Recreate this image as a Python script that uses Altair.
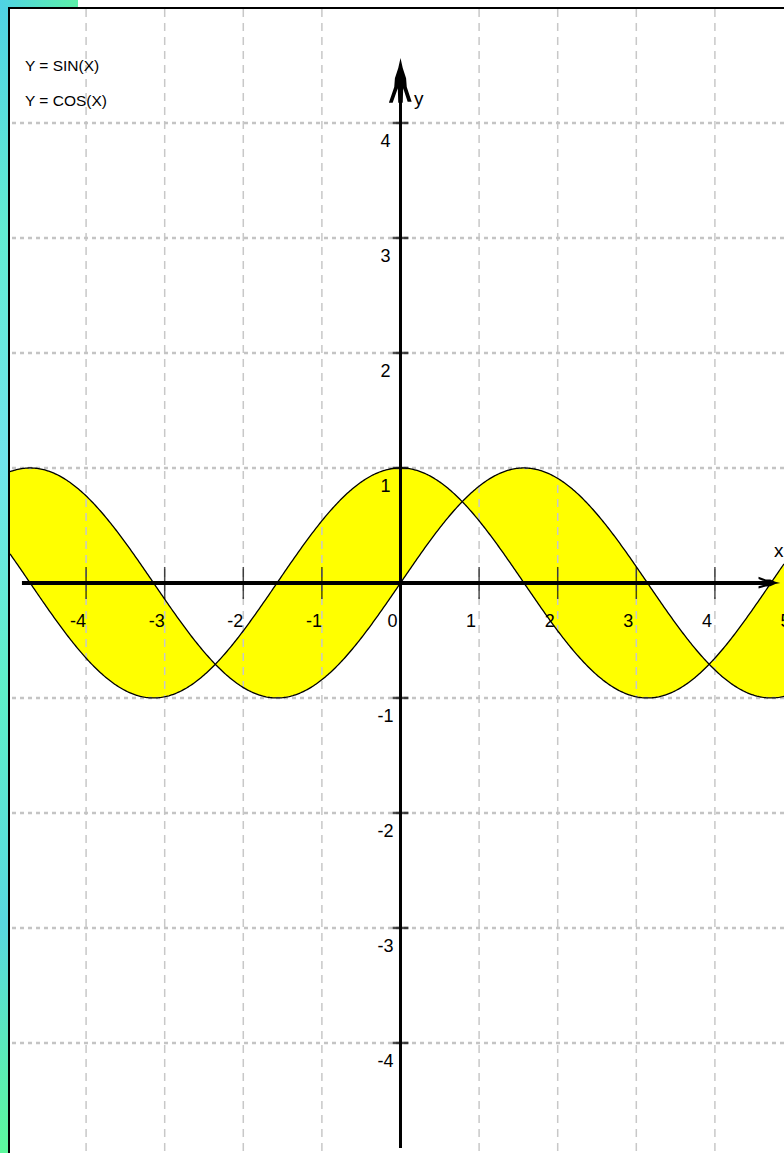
import altair as alt
import numpy as np
import pandas as pd

# Plotted range (data units) and plot size in pixels
X_DOMAIN = [-4.968, 4.879]
Y_DOMAIN = [-4.957, 4.991]
W, H = 774, 1144

x_ticks = [-4, -3, -2, -1, 1, 2, 3, 4]
y_ticks = [-4, -3, -2, -1, 1, 2, 3, 4]
x_tick_labels = ["-4", "-3", "-2", "-1", "0", "1", "2", "3", "4", "5"]
x_label_pos = [-4, -3, -2, -1, 0, 1, 2, 3, 4, 5]
y_tick_labels = ["-4", "-3", "-2", "-1", "1", "2", "3", "4"]
y_label_pos = [-4, -3, -2, -1, 1, 2, 3, 4]
legend_lines = ["Y = SIN(X)", "Y = COS(X)"]

FONT = "Liberation Sans Narrow, Liberation Sans, Arial"

xs = np.linspace(X_DOMAIN[0], X_DOMAIN[1], 600)
curves = pd.DataFrame({"x": xs, "sin": np.sin(xs), "cos": np.cos(xs)})

xsc = alt.Scale(domain=X_DOMAIN, nice=False, zero=False)
ysc = alt.Scale(domain=Y_DOMAIN, nice=False, zero=False)

one = alt.Data(values=[{"k": 0}])

# frame: gradient strips and black border outside the plot area
left_strip = alt.Chart(one).mark_rect(
    color=alt.LinearGradient(
        gradient="linear", x1=0, x2=0, y1=0, y2=1,
        stops=[
            alt.GradientStop(offset=0, color="#4fd2e4"),
            alt.GradientStop(offset=0.2, color="#62ecd2"),
            alt.GradientStop(offset=0.4, color="#70e4ec"),
            alt.GradientStop(offset=0.6, color="#5ef0c8"),
            alt.GradientStop(offset=0.8, color="#58d8e0"),
            alt.GradientStop(offset=1, color="#5cf89c"),
        ],
    )
).encode(x=alt.value(-10), x2=alt.value(-2), y=alt.value(-9), y2=alt.value(H))

top_strip = alt.Chart(one).mark_rect(
    color=alt.LinearGradient(
        gradient="linear", x1=0, x2=1, y1=0, y2=0,
        stops=[
            alt.GradientStop(offset=0, color="#4fd2e4"),
            alt.GradientStop(offset=1, color="#5cf0a8"),
        ],
    )
).encode(x=alt.value(-10), x2=alt.value(68), y=alt.value(-9), y2=alt.value(-2))

left_border = alt.Chart(one).mark_rect(color="#000000").encode(
    x=alt.value(-2), x2=alt.value(0), y=alt.value(-2), y2=alt.value(H)
)
top_border = alt.Chart(one).mark_rect(color="#000000").encode(
    x=alt.value(-2), x2=alt.value(W), y=alt.value(-2), y2=alt.value(0)
)

# yellow band between the two curves
band = alt.Chart(curves).mark_area(color="#ffff00", opacity=1).encode(
    x=alt.X("x:Q", scale=xsc, axis=None),
    y=alt.Y("sin:Q", scale=ysc, axis=None),
    y2="cos:Q",
)

# grid
vgrid = alt.Chart(pd.DataFrame({"x": x_ticks})).mark_rule(
    color="#c8c8c8", strokeWidth=1.5, strokeDash=[8, 6]
).encode(x=alt.X("x:Q", axis=None))
hgrid = alt.Chart(pd.DataFrame({"y": y_ticks})).mark_rule(
    color="#c4c4c4", strokeWidth=2.5, strokeDash=[4, 4]
).encode(y=alt.Y("y:Q", axis=None))

sin_line = alt.Chart(curves).mark_line(color="#000000", strokeWidth=1.3).encode(
    x=alt.X("x:Q", axis=None), y=alt.Y("sin:Q", axis=None)
)
cos_line = alt.Chart(curves).mark_line(color="#000000", strokeWidth=1.3).encode(
    x=alt.X("x:Q", axis=None), y=alt.Y("cos:Q", axis=None)
)

# coordinate axes through the origin
axes_df = pd.DataFrame({"x0": [-4.816], "x1": [4.72], "y0": [0.0], "ytop": [4.5], "ybot": [-4.913], "z": [0.0]})
x_axis = alt.Chart(axes_df).mark_rule(color="#000000", strokeWidth=4).encode(
    x=alt.X("x0:Q", axis=None), x2="x1:Q", y=alt.Y("y0:Q", axis=None)
)
y_axis = alt.Chart(axes_df).mark_rule(color="#000000", strokeWidth=3).encode(
    x=alt.X("z:Q", axis=None), y=alt.Y("ytop:Q", axis=None), y2="ybot:Q"
)

up_arrow = "M0,-1 L0.1,-0.55 L0.25,-0.1 L0.28,0.3 L0.5,0.95 L0.32,0.95 L0.12,0.35 L0.1,1 L-0.1,1 L-0.12,0.35 L-0.35,1 L-0.52,1 L-0.28,0.3 L-0.25,-0.1 L-0.1,-0.55 Z"
right_arrow = "M1,0 L0.55,0.1 L0.1,0.3 L-0.3,0.32 L-0.95,0.5 L-0.95,0.3 L-0.35,0.12 L-1,0.1 L-1,-0.1 L-0.35,-0.12 L-0.95,-0.35 L-0.95,-0.55 L-0.3,-0.32 L0.1,-0.3 L0.55,-0.1 Z"

y_head = alt.Chart(pd.DataFrame({"hx": [0.0], "hy": [4.37]})).mark_point(
    shape=up_arrow, filled=True, color="#000000", opacity=1, size=2000
).encode(x=alt.X("hx:Q", axis=None), y=alt.Y("hy:Q", axis=None))
x_head = alt.Chart(pd.DataFrame({"hx": [4.69], "hy": [0.0]})).mark_point(
    shape=right_arrow, filled=True, color="#000000", opacity=1, size=500
).encode(x=alt.X("hx:Q", axis=None), y=alt.Y("hy:Q", axis=None))

# tick marks
x_tick_marks = alt.Chart(pd.DataFrame({"x": x_ticks, "y": [0.0] * len(x_ticks)})).mark_tick(
    orient="vertical", size=32, thickness=1.5, color="#000000"
).encode(x=alt.X("x:Q", axis=None), y=alt.Y("y:Q", axis=None))
y_tick_marks = alt.Chart(pd.DataFrame({"y": y_ticks, "x": [0.0] * len(y_ticks)})).mark_tick(
    orient="horizontal", size=16, thickness=2.5, color="#000000"
).encode(y=alt.Y("y:Q", axis=None), x=alt.X("x:Q", axis=None))

# tick labels
x_labels = alt.Chart(
    pd.DataFrame({"x": x_label_pos, "y": [0.0] * len(x_label_pos), "t": x_tick_labels})
).mark_text(
    font=FONT, fontSize=18, align="center", baseline="middle", dx=-8, dy=39, color="#000000"
).encode(x=alt.X("x:Q", axis=None), y=alt.Y("y:Q", axis=None), text="t:N")
y_labels = alt.Chart(
    pd.DataFrame({"y": y_label_pos, "x": [0.0] * len(y_label_pos), "t": y_tick_labels})
).mark_text(
    font=FONT, fontSize=18, align="center", baseline="middle", dx=-15, dy=19, color="#000000"
).encode(y=alt.Y("y:Q", axis=None), x=alt.X("x:Q", axis=None), text="t:N")

# axis names
y_name = alt.Chart(one).mark_text(
    font=FONT, fontSize=19, align="left", baseline="middle", color="#000000", text="y"
).encode(x=alt.value(404), y=alt.value(90))
x_name = alt.Chart(one).mark_text(
    font=FONT, fontSize=19, align="left", baseline="middle", color="#000000", text="x"
).encode(x=alt.value(764), y=alt.value(542))

# function legend
legend_sin = alt.Chart(one).mark_text(
    font=FONT, fontSize=15.5, align="left", baseline="middle", color="#000000", text=legend_lines[0]
).encode(x=alt.value(15), y=alt.value(57))
legend_cos = alt.Chart(one).mark_text(
    font=FONT, fontSize=15.5, align="left", baseline="middle", color="#000000", text=legend_lines[1]
).encode(x=alt.value(15), y=alt.value(92))

chart = alt.layer(
    band, vgrid, hgrid, sin_line, cos_line,
    x_axis, y_axis, y_head, x_head, x_tick_marks, y_tick_marks,
    x_labels, y_labels, y_name, x_name, legend_sin, legend_cos,
    left_strip, top_strip, left_border, top_border,
).properties(
    width=W, height=H,
    padding={"left": 10, "top": 9, "right": 0, "bottom": 0},
    autosize=alt.AutoSizeParams(type="none"),
    background="#ffffff",
).configure_view(stroke=None, fill="#ffffff")

chart.save("out.html", embed_options={"renderer": "svg", "actions": False})
